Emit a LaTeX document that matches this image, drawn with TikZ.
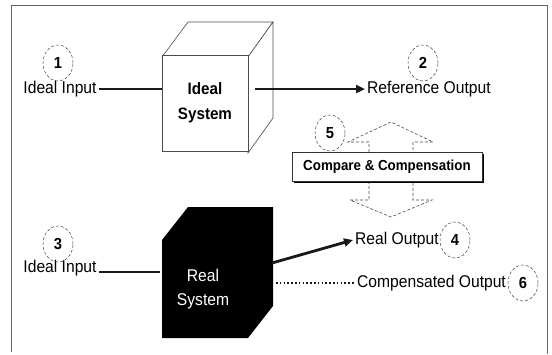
\documentclass[tikz,border=0pt]{standalone}
\usepackage{fontspec}
\setmainfont{Liberation Sans}[FakeStretch=0.92]
\usetikzlibrary{arrows.meta,shapes.geometric,shadows}
\begin{document}
\begin{tikzpicture}[x=1pt,y=-1pt,
  lbl/.style={inner sep=2pt,font=\fontsize{17}{19}\selectfont},
  numc/.style={ellipse,draw=black!75,densely dashed,line width=0.5pt,minimum width=30pt,minimum height=36pt,inner sep=0pt,font=\fontsize{16}{18}\selectfont\bfseries},
  thickline/.style={line width=2.8pt,black!90},
  thickarrow/.style={line width=2.8pt,black!90,-{Triangle[length=9pt,width=8pt]}},
  cubeedge/.style={draw=black!70,line width=0.6pt},
  hollow/.style={draw=black!70,densely dashed,line width=0.6pt,fill=white},
  framel/.style={draw=black!60,line width=0.8pt}
]
\useasboundingbox (0,0) rectangle (552,354);
% frame
\draw[framel] (11,352) -- (11,5) -- (547,5) -- (547,354);

% ----- Ideal system (cube)
\filldraw[cubeedge,fill=white] (162,57) -- (188,22) -- (273,22) -- (248,57) -- cycle;
\filldraw[cubeedge,fill=white] (248,57) -- (273,22) -- (273,118) -- (248,153) -- cycle;
\node[cubeedge,fill=white,minimum width=86pt,minimum height=96pt,inner sep=0pt,
      align=center,font=\fontsize{16.5}{25}\selectfont\bfseries] (isys) at (205,103) {Ideal\\System};

\node[numc] (c1) at (58,63) {1};
\node[lbl] (in1) at (60,89) {Ideal Input};
\draw[thickline] (in1.east) -- (in1.east -| isys.west);

\node[numc] (c2) at (423,63) {2};
\node[lbl,anchor=west] (refout) at (365,89) {Reference Output};
\coordinate (iout) at (255,89);
\draw[thickarrow] (iout) -- (refout.west);

% ----- Compare & Compensation with hollow double arrow
\draw[hollow] (369,152) -- (369,142) -- (348,142) -- (391,122) -- (433,142) -- (413,142) -- (413,152);
\draw[hollow] (369,181) -- (369,200) -- (350,200) -- (391,217) -- (432,200) -- (413,200) -- (413,181);
\node[draw=black!80,line width=0.6pt,fill=white,minimum width=190pt,minimum height=29pt,inner sep=0pt,
      drop shadow={shadow xshift=1.6pt,shadow yshift=-1.6pt,fill=black,opacity=1},
      font=\fontsize{14.5}{16}\selectfont\bfseries] (cmp) at (387,166.5) {Compare \& Compensation};
\node[numc] (c5) at (330,133) {5};

% ----- Real system (black cube)
\fill[black] (162,240) -- (188,207) -- (273,207) -- (273,306) -- (248,338) -- (162,338) -- cycle;
\node[minimum width=86pt,minimum height=98pt,inner sep=0pt,text=white,align=center,
      font=\fontsize{17}{24}\selectfont] (rsys) at (203,289) {Real\\System};

\node[numc] (c3) at (58,244) {3};
\node[lbl] (in2) at (60,268) {Ideal Input};
\draw[thickline] (in2.east |- 0,272) -- (rsys.west |- 0,272);

\node[lbl,anchor=west] (rout) at (353,240) {Real Output};
\node[numc] (c4) at (455,240) {4};
\coordinate (rs1) at (272,263);
\draw[thickarrow] (rs1) -- (rout.west);

\node[lbl,anchor=west] (cout) at (355,283) {Compensated Output};
\node[numc] (c6) at (523,283) {6};
\coordinate (rs2) at (276,283);
\draw[line width=2.2pt,black!90,dash pattern=on 1.6pt off 2.2pt] (rs2) -- (cout.west);
\end{tikzpicture}
\end{document}
